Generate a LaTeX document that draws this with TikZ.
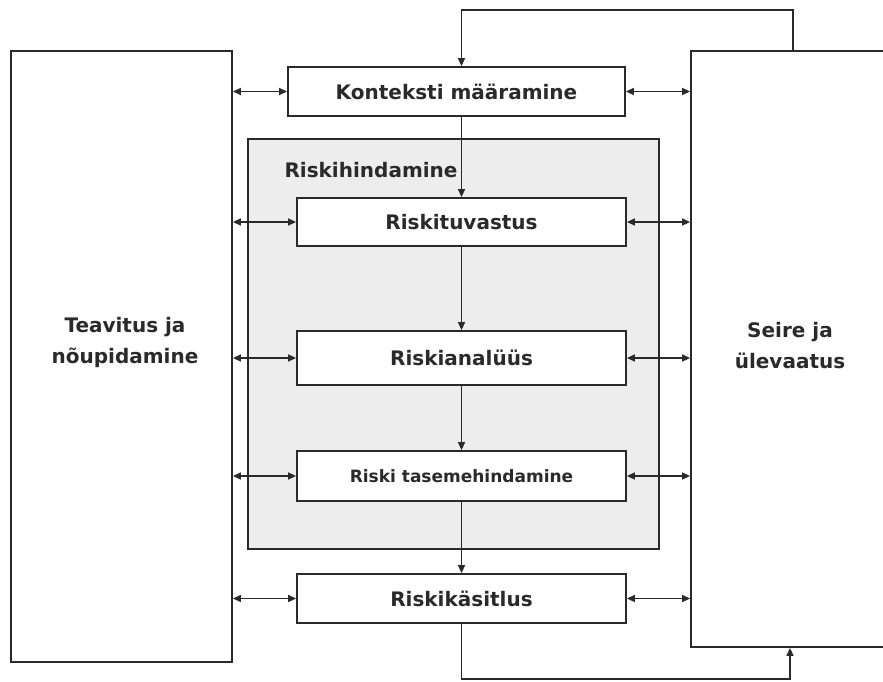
\documentclass[tikz,border=0pt]{standalone}
\usepackage{fontspec}
\setmainfont{DejaVu Sans}
\usetikzlibrary{arrows.meta}
\definecolor{ink}{HTML}{2A2A2A}
\definecolor{shade}{HTML}{EDEDED}
\begin{document}
\begin{tikzpicture}[x=1pt,y=-1pt,
  every node/.style={font=\fontsize{20}{31}\selectfont\bfseries, text=ink},
  box/.style={draw=ink, line width=1.8pt, fill=white, inner sep=0pt, align=center},
  flow/.style={draw=ink, line width=1.4pt, -{Triangle[length=8pt,width=7pt]}},
  both/.style={draw=ink, line width=1.4pt, {Triangle[length=8pt,width=7pt]}-{Triangle[length=8pt,width=7pt]}}]
\useasboundingbox (0,0) rectangle (883,681);
\fill[white] (0,0) rectangle (883,681);

% side blocks
\node[box, minimum width=221pt, minimum height=611pt] (L) at (121.5,356.5) {};
\node[box, minimum width=212pt, minimum height=596pt] (R) at (797,349) {};
\node[align=center] (Lt) at (125,342) {Teavitus ja\\nõupidamine};
\node[align=center] (Rt) at (790,346) {Seire ja\\ülevaatus};

% risk assessment group
\node[box, fill=shade, minimum width=411pt, minimum height=410pt] (H) at (453.5,344) {};
\node[anchor=west] (Hl) at (281,170) {Riskihindamine};

% process steps
\node[box, minimum width=337pt, minimum height=49pt] (K) at (456.5,91.5) {Konteksti määramine};
\node[box, minimum width=329pt, minimum height=48pt] (T) at (461.5,222) {Riskituvastus};
\node[box, minimum width=329pt, minimum height=54pt] (A) at (461.5,358) {Riskianalüüs};
\node[box, minimum width=329pt, minimum height=50pt, font=\fontsize{17}{20}\selectfont\bfseries] (E) at (461.5,476) {Riski tasemehindamine};
\node[box, minimum width=329pt, minimum height=49pt] (C) at (461.5,598.5) {Riskikäsitlus};

% main flow
\draw[flow] (K.south -| T.north) -- (T.north);
\draw[flow] (T.south) -- (A.north);
\draw[flow] (A.south) -- (E.north);
\draw[flow] (E.south) -- (C.north);

% feedback loops
\coordinate (topR) at (793,51);
\coordinate (topL) at (461.5,10);
\draw[flow] (topR) |- (topL) -- (K.north -| T.north);
\coordinate (botR) at (790,679);
\draw[flow] (C.south) |- (botR) -- (botR |- R.south);

% links to the side blocks
\foreach \n in {K,T,A,E,C}{
  \draw[both] (L.east |- \n) -- (\n.west);
  \draw[both] (\n.east) -- (\n -| R.west);
}
\end{tikzpicture}
\end{document}
